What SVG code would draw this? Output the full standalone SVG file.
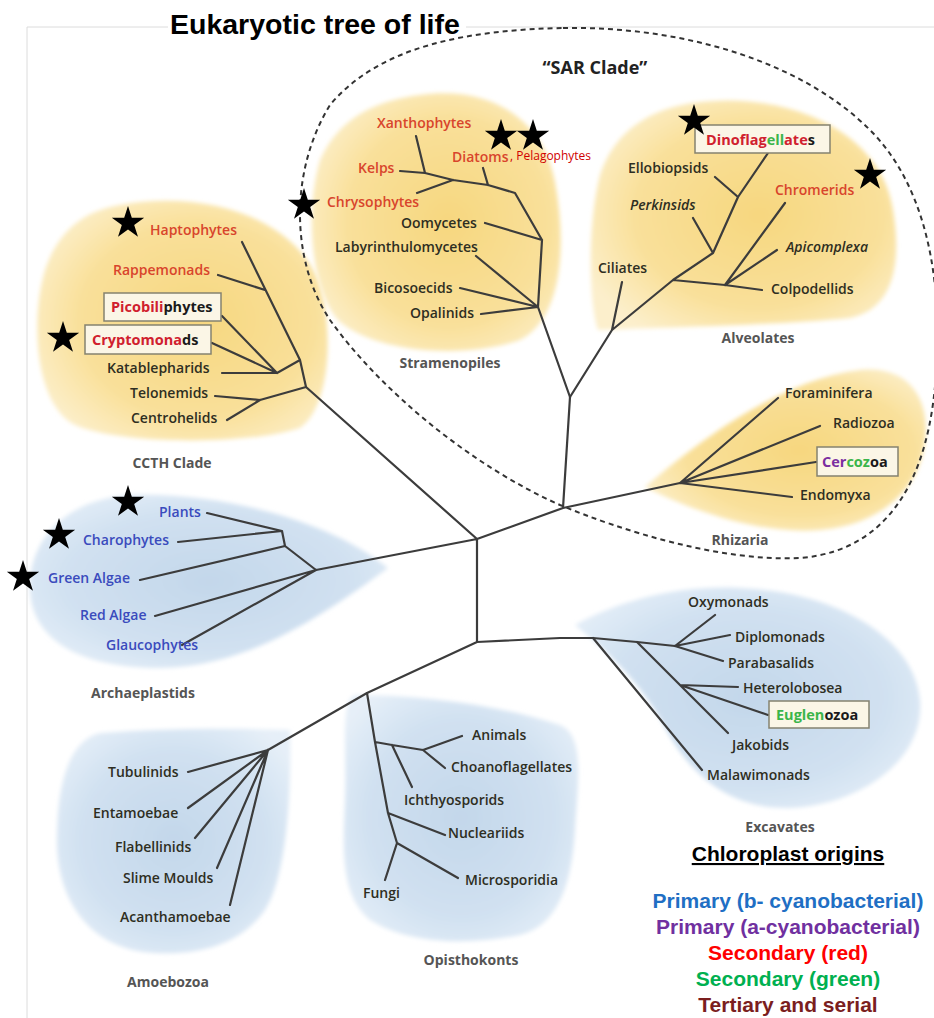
<svg xmlns="http://www.w3.org/2000/svg" xmlns:xlink="http://www.w3.org/1999/xlink" width="934" height="1018" viewBox="0 0 934 1018">
<style>
.t{font-family:"Open Sans","Noto Sans",sans-serif;font-size:14px;font-weight:600;fill:#2e2e22}
.r{fill:#d8452c}
.b{fill:#3a4bbd}
.i{font-style:italic}
.g{font-family:"Open Sans","Noto Sans",sans-serif;font-size:14px;font-weight:700;fill:#555;text-anchor:middle}
.bx{fill:#fbf6e6;stroke:#85826f;stroke-width:1.5}
.bt{font-weight:700;font-size:14.5px}
.br{fill:none;stroke:#3c3c3c;stroke-width:2.2;stroke-linecap:round;stroke-linejoin:round}
.lg{font-family:"Liberation Sans",Arial,sans-serif;font-size:21px;font-weight:700;text-anchor:middle}
.y{fill:url(#yel);filter:url(#soft)}
.bl{fill:url(#blu);filter:url(#soft)}
</style>
<defs>
<radialGradient id="yel" cx="0.55" cy="0.5" r="0.62">
<stop offset="0" stop-color="#f7d77f"/>
<stop offset="0.65" stop-color="#f9e09a"/>
<stop offset="1" stop-color="#fcefcc"/>
</radialGradient>
<radialGradient id="blu" cx="0.5" cy="0.5" r="0.62">
<stop offset="0" stop-color="#c3d7ea"/>
<stop offset="0.65" stop-color="#d1e1f1"/>
<stop offset="1" stop-color="#e6eff8"/>
</radialGradient>
<filter id="soft" x="-5%" y="-5%" width="110%" height="110%"><feGaussianBlur stdDeviation="2"/></filter>
<path id="star" d="M0,-17 L3.82,-5.26 L16.17,-5.25 L6.18,2.01 L9.99,13.75 L0,6.5 L-9.99,13.75 L-6.18,2.01 L-16.17,-5.25 L-3.82,-5.26 Z" fill="#000"/>
</defs>
<rect width="934" height="1018" fill="#fff"/>
<path d="M27,1018 L27,27 L168,27 M466,27 L934,27" fill="none" stroke="#dcdcdc" stroke-width="1"/>
<text x="170" y="34" font-family="Liberation Sans,Arial,sans-serif" font-size="28.5" font-weight="700" fill="#000">Eukaryotic tree of life</text>

<g id="blobs">
<path id="blob-ccth" class="y" d="M120,205 C200,190 292,215 318,280 C335,330 330,408 300,428 C250,445 120,445 75,425 C35,405 30,320 45,270 C60,225 90,210 120,205 Z"/>
<path id="blob-stram" class="y" d="M420,95 C482,86 542,112 555,182 C568,252 560,320 520,340 C470,358 380,355 340,322 C310,292 305,210 320,160 C340,115 380,100 420,95 Z"/>
<path id="blob-alv" class="y" d="M700,102 C790,92 882,132 893,210 C903,270 890,310 850,318 C780,325 650,328 598,330 C588,300 588,220 600,175 C615,130 650,108 700,102 Z"/>
<path id="blob-rhiz" class="y" d="M645,487 C700,440 780,380 860,370 C910,365 930,400 925,440 C920,490 880,525 820,530 C760,535 690,510 645,487 Z"/>
<path id="blob-arch" class="bl" d="M388,568 C330,520 220,492 130,495 C60,500 28,545 30,590 C32,640 80,668 160,668 C250,668 330,610 388,568 Z"/>
<path id="blob-exc" class="bl" d="M575,625 C620,600 680,585 740,588 C840,592 915,640 920,700 C925,760 860,805 790,808 C720,810 682,762 662,722 C642,686 612,655 575,625 Z"/>
<path id="blob-amoe" class="bl" d="M100,733 C170,728 240,728 290,730 C292,800 285,880 265,910 C240,945 200,955 155,953 C90,950 55,900 57,835 C58,780 70,740 100,733 Z"/>
<path id="blob-opis" class="bl" d="M355,695 C420,695 500,705 560,725 C585,735 578,780 575,830 C572,880 560,925 520,935 C470,945 410,945 370,920 C340,895 343,850 345,800 C347,750 340,700 355,695 Z"/>
</g>

<path id="sar-outline" d="M563,28 C680,26 800,60 870,130 C920,180 940,260 937,350 C935,460 900,550 800,558 C720,562 620,530 560,505 C470,465 380,390 330,320 C290,260 290,170 330,105 C380,45 470,30 563,28 Z" fill="none" stroke="#333" stroke-width="2" stroke-dasharray="5 4"/>
<text id="sar-label" x="595" y="74" font-family="Open Sans,Noto Sans,sans-serif" font-size="18" font-weight="700" fill="#222" text-anchor="middle">“SAR Clade”</text>

<g id="connectors" class="br">
<path d="M477,539 L477,642 M477,539 L306,387 M477,539 L563,508 L680,483 M563,508 L570,397 M477,539 L316,570 M477,642 L560,638 L593,638 L637,642 L675,646 M477,642 L367,693 L268,750"/>
<path d="M306,387 L300,360 L242,242 M218,275 L265,290 M222,316 L277,373 M212,343 L277,373 M222,373 L277,373 L300,360 M215,396 L260,400 L306,387 M227,420 L260,400"/>
<path d="M570,397 L538,307 L542,240 L515,193 L488,185 L453,180 L425,173 L400,171 M416,136 L425,173 M417,193 L453,180 M483,168 L488,185 M485,223 L542,240 M476,256 L538,307 M460,288 L538,307 M481,314 L538,307"/>
<path d="M570,397 L612,330 L673,280 L713,253 L738,197 L768,153 M622,282 L612,330 M715,177 L738,197 M693,218 L713,253 M673,280 L725,285 L762,290 M785,203 L725,285 M777,250 L725,285"/>
<path d="M680,483 L778,398 M680,483 L820,426 M680,483 L816,462 M680,483 L792,497"/>
<path d="M316,570 L285,546 L282,531 M207,513 L282,531 M178,542 L282,531 M140,580 L285,546 M155,616 L316,570 M182,645 L316,570"/>
<path d="M675,646 L715,615 M675,646 L730,635 M675,646 L723,661 M637,642 L680,685 L728,733 M680,685 L738,687 M680,685 L768,715 M593,638 L702,770"/>
<path d="M268,750 L188,772 M268,750 L188,808 M268,750 L195,838 M268,750 L217,868 M268,750 L230,905"/>
<path d="M367,693 L375,742 L388,813 L397,843 L385,880 M375,742 L392,745 L423,750 M392,745 L412,787 M423,750 L462,736 M423,750 L445,768 M388,813 L445,835 M397,843 L458,878"/>
</g>

<g id="ccth">
<text id="haptophytes" class="t r" x="150" y="235">Haptophytes</text>
<text id="rappemonads" class="t r" x="113" y="275">Rappemonads</text>
<g id="picobiliphytes"><rect class="bx" x="104" y="293" width="117" height="28"/><text class="t bt" x="111" y="312"><tspan fill="#d0202e">Picobili</tspan><tspan fill="#1a1a1a">phytes</tspan></text></g>
<g id="cryptomonads"><rect class="bx" x="85" y="325" width="126" height="29"/><text class="t bt" x="92" y="345"><tspan fill="#d0202e">Cryptomona</tspan><tspan fill="#1a1a1a">ds</tspan></text></g>
<text id="katablepharids" class="t" x="107" y="373">Katablepharids</text>
<text id="telonemids" class="t" x="130" y="398">Telonemids</text>
<text id="centrohelids" class="t" x="131" y="423">Centrohelids</text>
<text id="ccth-label" class="g" x="172" y="468">CCTH Clade</text>
</g>

<g id="stramenopiles">
<text id="xanthophytes" class="t r" x="377" y="128">Xanthophytes</text>
<text id="kelps" class="t r" x="358" y="173">Kelps</text>
<text id="diatoms" class="t r" x="452" y="162">Diatoms</text>
<text id="pelagophytes" x="510" y="160" font-family="Open Sans,Noto Sans,sans-serif" font-size="12" fill="#d00000">, Pelagophytes</text>
<text id="chrysophytes" class="t r" x="327" y="207">Chrysophytes</text>
<text id="oomycetes" class="t" x="401" y="228">Oomycetes</text>
<text id="labyrinthulomycetes" class="t" x="335" y="252">Labyrinthulomycetes</text>
<text id="bicosoecids" class="t" x="374" y="293">Bicosoecids</text>
<text id="opalinids" class="t" x="410" y="318">Opalinids</text>
<text id="stram-label" class="g" x="450" y="368">Stramenopiles</text>
</g>

<g id="alveolates">
<g id="dinoflagellates"><rect class="bx" x="695" y="125" width="135" height="28"/><text class="t bt" x="706" y="145"><tspan fill="#d0202e">Dinoflag</tspan><tspan fill="#3bb54a">ell</tspan><tspan fill="#d0202e">ate</tspan><tspan fill="#1a1a1a">s</tspan></text></g>
<text id="ellobiopsids" class="t" x="628" y="173">Ellobiopsids</text>
<text id="perkinsids" class="t i" x="630" y="210">Perkinsids</text>
<text id="chromerids" class="t r" x="775" y="195">Chromerids</text>
<text id="apicomplexa" class="t i" x="786" y="252">Apicomplexa</text>
<text id="ciliates" class="t" x="598" y="273">Ciliates</text>
<text id="colpodellids" class="t" x="771" y="294">Colpodellids</text>
<text id="alv-label" class="g" x="758" y="343">Alveolates</text>
</g>

<g id="rhizaria">
<text id="foraminifera" class="t" x="785" y="398">Foraminifera</text>
<text id="radiozoa" class="t" x="833" y="428">Radiozoa</text>
<g id="cercozoa"><rect class="bx" x="817" y="447" width="81" height="29"/><text class="t bt" x="822" y="467"><tspan fill="#7b2fa0">Cer</tspan><tspan fill="#3bb54a">coz</tspan><tspan fill="#1a1a1a">oa</tspan></text></g>
<text id="endomyxa" class="t" x="800" y="500">Endomyxa</text>
<text id="rhiz-label" class="g" x="740" y="545">Rhizaria</text>
</g>

<g id="archaeplastids">
<text id="plants" class="t b" x="159" y="517">Plants</text>
<text id="charophytes" class="t b" x="83" y="545">Charophytes</text>
<text id="green-algae" class="t b" x="48" y="583">Green Algae</text>
<text id="red-algae" class="t b" x="80" y="620">Red Algae</text>
<text id="glaucophytes" class="t b" x="106" y="650">Glaucophytes</text>
<text id="arch-label" class="g" x="143" y="698">Archaeplastids</text>
</g>

<g id="excavates">
<text id="oxymonads" class="t" x="688" y="607">Oxymonads</text>
<text id="diplomonads" class="t" x="735" y="642">Diplomonads</text>
<text id="parabasalids" class="t" x="728" y="668">Parabasalids</text>
<text id="heterolobosea" class="t" x="743" y="693">Heterolobosea</text>
<g id="euglenozoa"><rect class="bx" x="769" y="701" width="100" height="27"/><text class="t bt" x="776" y="720"><tspan fill="#3bb54a">Euglen</tspan><tspan fill="#1a1a1a">ozoa</tspan></text></g>
<text id="jakobids" class="t" x="732" y="750">Jakobids</text>
<text id="malawimonads" class="t" x="707" y="780">Malawimonads</text>
<text id="exc-label" class="g" x="780" y="832">Excavates</text>
</g>

<g id="amoebozoa">
<text id="tubulinids" class="t" x="108" y="777">Tubulinids</text>
<text id="entamoebae" class="t" x="93" y="818">Entamoebae</text>
<text id="flabellinids" class="t" x="115" y="852">Flabellinids</text>
<text id="slime-moulds" class="t" x="123" y="883">Slime Moulds</text>
<text id="acanthamoebae" class="t" x="120" y="922">Acanthamoebae</text>
<text id="amoe-label" class="g" x="168" y="987">Amoebozoa</text>
</g>

<g id="opisthokonts">
<text id="animals" class="t" x="472" y="740">Animals</text>
<text id="choanoflagellates" class="t" x="451" y="772">Choanoflagellates</text>
<text id="ichthyosporids" class="t" x="404" y="805">Ichthyosporids</text>
<text id="nucleariids" class="t" x="448" y="838">Nucleariids</text>
<text id="microsporidia" class="t" x="465" y="885">Microsporidia</text>
<text id="fungi" class="t" x="363" y="898">Fungi</text>
<text id="opis-label" class="g" x="471" y="965">Opisthokonts</text>
</g>

<g id="stars">
<use xlink:href="#star" x="128" y="223"/>
<use xlink:href="#star" x="63" y="338"/>
<use xlink:href="#star" x="304" y="205"/>
<use xlink:href="#star" x="501" y="136"/>
<use xlink:href="#star" x="533" y="136"/>
<use xlink:href="#star" x="694" y="121"/>
<use xlink:href="#star" x="870" y="175"/>
<use xlink:href="#star" x="128" y="502"/>
<use xlink:href="#star" x="59" y="535"/>
<use xlink:href="#star" x="23" y="577"/>
</g>

<g id="legend">
<text class="lg" x="788" y="861" fill="#000" text-decoration="underline">Chloroplast origins</text>
<text class="lg" x="788" y="908" fill="#1f6fc4">Primary (b- cyanobacterial)</text>
<text class="lg" x="788" y="934" fill="#7030a0">Primary (a-cyanobacterial)</text>
<text class="lg" x="788" y="960" fill="#ff0000">Secondary (red)</text>
<text class="lg" x="788" y="986" fill="#00b050">Secondary (green)</text>
<text class="lg" x="788" y="1012" fill="#7b1e1e">Tertiary and serial</text>
</g>
</svg>
